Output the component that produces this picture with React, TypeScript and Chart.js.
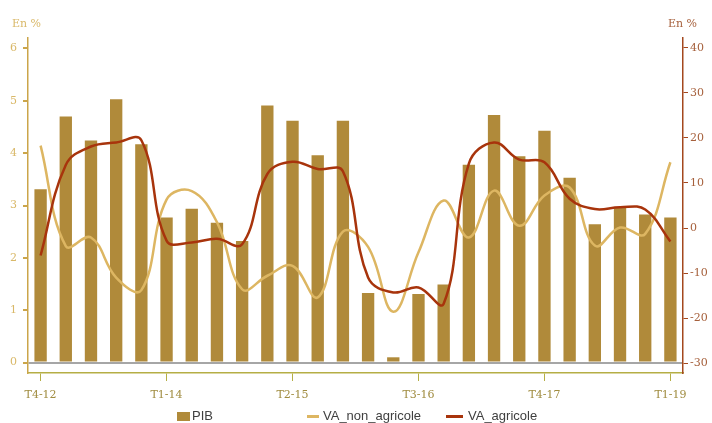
import React, { useEffect, useRef } from "react";
import { Chart, registerables } from "chart.js";

Chart.register(...registerables);

const CATEGORIES = [
  "T4-12", "T1-13", "T2-13", "T3-13", "T4-13", "T1-14", "T2-14", "T3-14", "T4-14",
  "T1-15", "T2-15", "T3-15", "T4-15", "T1-16", "T2-16", "T3-16", "T4-16",
  "T1-17", "T2-17", "T3-17", "T4-17", "T1-18", "T2-18", "T3-18", "T4-18", "T1-19",
];
const SHOWN_X_LABELS = ["T4-12", "T1-14", "T2-15", "T3-16", "T4-17", "T1-19"];

const PIB = [
  3.31, 4.7, 4.24, 5.03, 4.17, 2.77, 2.94, 2.67, 2.32, 4.91, 4.62, 3.96, 4.62,
  1.33, 0.1, 1.31, 1.49, 3.78, 4.73, 3.94, 4.43, 3.53, 2.64, 2.96, 2.83, 2.77,
];
const VA_NON_AGRICOLE = [
  18.3, -4.0, -2.1, -11.0, -13.8, 6.3, 8.2, 1.3, -13.6, -10.6, -8.4, -15.4, -0.8,
  -4.2, -18.6, -5.4, 6.1, -2.1, 8.3, 0.5, 7.2, 9.0, -3.9, 0.1, -1.3, 14.6,
];
const VA_AGRICOLE = [
  -6.1, 14.0, 18.1, 19.0, 19.5, -2.8, -3.2, -2.4, -3.6, 12.0, 14.7, 13.1, 12.6,
  -11.0, -14.3, -13.2, -16.8, 14.3, 19.0, 15.2, 14.6, 6.5, 4.2, 4.6, 4.1, -3.0,
];

const LEFT_TICKS = [0, 1, 2, 3, 4, 5, 6];
const RIGHT_TICKS = [-30, -20, -10, 0, 10, 20, 30, 40];

const C_BAR = "#B08A3A";
const C_NON = "#DDB662";
const C_AGR = "#A8340C";
const C_LEFT_AXIS = "#CBA54A";
const C_LEFT_TEXT = "#D9B868";
const C_RIGHT_AXIS = "#A4481E";
const C_RIGHT_TEXT = "#A6603C";
const C_X_AXIS = "#B5AE45";
const C_X_TEXT = "#A08C40";
const C_ZERO = "#A6A6A6";

const TICK_FONT = { family: "'DejaVu Serif', serif", size: 11 };

const unitTitles = {
  id: "unitTitles",
  afterDraw(chart: any) {
    const { ctx, chartArea } = chart;
    ctx.save();
    ctx.font = "11px 'DejaVu Serif', serif";
    ctx.textBaseline = "middle";
    ctx.fillStyle = C_LEFT_TEXT;
    ctx.textAlign = "left";
    ctx.fillText("En %", chartArea.left - 16, 24);
    ctx.fillStyle = C_RIGHT_TEXT;
    ctx.textAlign = "left";
    ctx.fillText("En %", chartArea.right - 15, 24);
    ctx.restore();
  },
};

function Legend() {
  const text: React.CSSProperties = {
    position: "absolute",
    top: 408,
    font: "13px 'Liberation Sans', Arial, sans-serif",
    color: "#404040",
    lineHeight: "16px",
    whiteSpace: "nowrap",
  };
  return (
    <>
      <div style={{ position: "absolute", left: 177, top: 412, width: 13, height: 9, background: C_BAR }} />
      <span style={{ ...text, left: 192 }}>PIB</span>
      <div style={{ position: "absolute", left: 307, top: 415, width: 12, height: 3, background: C_NON }} />
      <span style={{ ...text, left: 323 }}>VA_non_agricole</span>
      <div style={{ position: "absolute", left: 446, top: 415, width: 17, height: 3, background: C_AGR }} />
      <span style={{ ...text, left: 468 }}>VA_agricole</span>
    </>
  );
}

export default function App() {
  const ref = useRef<HTMLCanvasElement | null>(null);

  useEffect(() => {
    if (!ref.current) return;
    const chart = new Chart(ref.current, {
      type: "bar",
      data: {
        labels: CATEGORIES,
        datasets: [
          {
            type: "bar",
            label: "PIB",
            data: PIB,
            backgroundColor: C_BAR,
            yAxisID: "y",
            barPercentage: 0.49,
            categoryPercentage: 1,
            order: 3,
          },
          {
            type: "line",
            label: "VA_non_agricole",
            data: VA_NON_AGRICOLE,
            borderColor: C_NON,
            backgroundColor: C_NON,
            borderWidth: 2.5,
            pointRadius: 0,
            tension: 0.4,
            yAxisID: "y1",
            order: 2,
          },
          {
            type: "line",
            label: "VA_agricole",
            data: VA_AGRICOLE,
            borderColor: C_AGR,
            backgroundColor: C_AGR,
            borderWidth: 2.5,
            pointRadius: 0,
            tension: 0.4,
            yAxisID: "y1",
            order: 1,
          },
        ] as any,
      },
      options: {
        animation: false,
        responsive: true,
        maintainAspectRatio: false,
        layout: { padding: { top: 38, left: 0, right: 0, bottom: 0 } },
        plugins: {
          legend: { display: false },
          tooltip: { enabled: false },
        },
        scales: {
          x: {
            offset: true,
            grid: {
              offset: false,
              drawOnChartArea: false,
              tickLength: 8,
              tickColor: C_X_AXIS,
            },
            border: { color: C_X_AXIS, width: 1.5 },
            ticks: {
              autoSkip: false,
              maxRotation: 0,
              padding: 8,
              color: C_X_TEXT,
              font: TICK_FONT,
            },
            afterBuildTicks(scale: any) {
              scale.ticks = scale.ticks.filter((t: any) =>
                SHOWN_X_LABELS.includes(CATEGORIES[t.value])
              );
            },
            afterFit(scale: any) {
              scale.height = 50;
            },
          },
          y: {
            position: "left",
            min: -0.2,
            max: 6.2,
            grid: {
              color: (c: any) => (c.tick && c.tick.value === 0 ? C_ZERO : "rgba(0,0,0,0)"),
              lineWidth: 2,
              tickColor: C_LEFT_AXIS,
              tickLength: 5,
              drawOnChartArea: true,
            },
            border: { color: C_LEFT_AXIS, width: 1.5 },
            ticks: {
              includeBounds: false,
              padding: 6,
              color: C_LEFT_TEXT,
              font: TICK_FONT,
            },
            afterBuildTicks(scale: any) {
              scale.ticks = LEFT_TICKS.map((v) => ({ value: v }));
            },
            afterFit(scale: any) {
              scale.width = 28;
            },
          },
          y1: {
            position: "right",
            min: -32.2,
            max: 42.2,
            grid: {
              drawOnChartArea: false,
              tickColor: C_RIGHT_AXIS,
              tickLength: 5,
            },
            border: { color: C_RIGHT_AXIS, width: 1.5 },
            ticks: {
              includeBounds: false,
              padding: 2,
              color: C_RIGHT_TEXT,
              font: TICK_FONT,
            },
            afterBuildTicks(scale: any) {
              scale.ticks = RIGHT_TICKS.map((v) => ({ value: v }));
            },
            afterFit(scale: any) {
              scale.width = 29;
            },
          },
        },
      } as any,
      plugins: [unitTitles],
    });
    return () => chart.destroy();
  }, []);

  return (
    <div style={{ position: "fixed", left: 0, top: 0, width: 712, height: 423, background: "#fff" }}>
      <canvas ref={ref} style={{ width: 712, height: 423 }} />
      <Legend />
    </div>
  );
}
